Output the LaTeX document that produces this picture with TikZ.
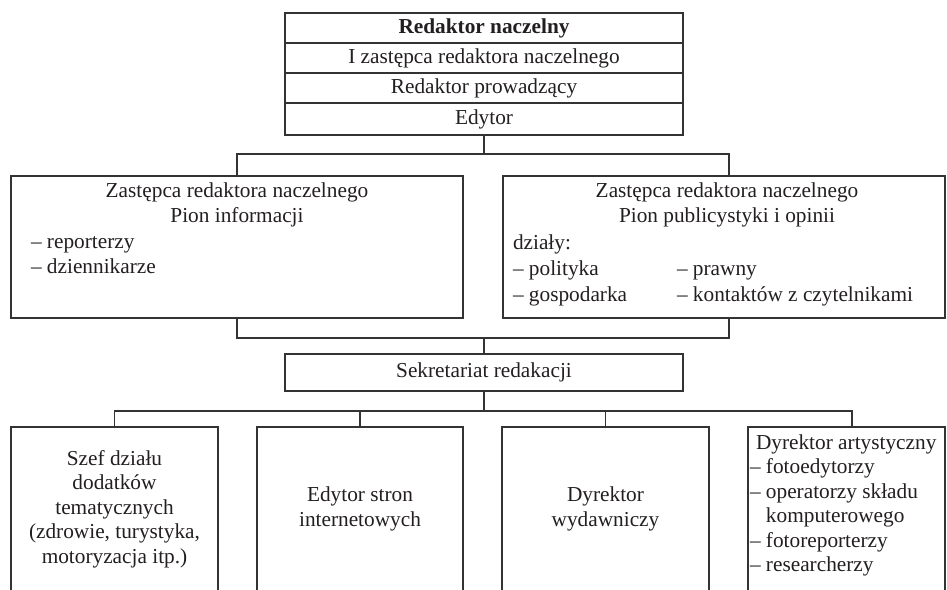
\documentclass[tikz,border=0pt]{standalone}
\usepackage{fontspec}
\setmainfont{Liberation Serif}
\definecolor{ln}{HTML}{333333}
\definecolor{tx}{HTML}{231F20}
\begin{document}
\begin{tikzpicture}[x=1pt,y=-1pt,
  box/.style={draw=ln, line width=1.2pt, rectangle, inner sep=0pt, outer sep=0pt},
  conn/.style={draw=ln, line width=1.2pt},
  txt/.style={font=\fontsize{21.3}{24.5}\selectfont, text=tx, inner sep=0pt, outer sep=0pt, align=center},
  lab/.style={txt, anchor=base},
  labw/.style={txt, anchor=base west, align=left}]
\useasboundingbox (0,0) rectangle (947,589);
\clip (0,0) rectangle (947,589);
\fill[white] (0,0) rectangle (947,589);

% top stack
\node[box, txt, minimum width=398pt, minimum height=30pt] (rn) at (484,28) {\textbf{Redaktor naczelny}};
\node[box, txt, minimum width=398pt, minimum height=30pt] (zr) at (484,58) {I zastępca redaktora naczelnego};
\node[box, txt, minimum width=398pt, minimum height=30pt] (rp) at (484,88) {Redaktor prowadzący};
\node[box, txt, minimum width=398pt, minimum height=32pt] (ed) at (484,119) {Edytor};

% second level boxes
\node[box, minimum width=452pt, minimum height=142pt] (lb) at (237,247) {};
\node[box, minimum width=442pt, minimum height=142pt] (rb) at (724,247) {};

\node[lab] (lbt1) at (237,197) {Zastępca redaktora naczelnego};
\node[lab] (lbt2) at (237,222) {Pion informacji};
\node[labw] (lbl1) at (31,248) {– reporterzy};
\node[labw] (lbl2) at (31,273) {– dziennikarze};

\node[lab] (rbt1) at (727,197) {Zastępca redaktora naczelnego};
\node[lab] (rbt2) at (727,222) {Pion publicystyki i opinii};
\node[labw] (rbd) at (513,249) {działy:};
\node[labw] (rb1) at (513,275) {– polityka};
\node[labw] (rb2) at (513,301) {– gospodarka};
\node[labw] (rb3) at (677,275) {– prawny};
\node[labw] (rb4) at (677,301) {– kontaktów z czytelnikami};

% sekretariat
\node[box, txt, minimum width=398pt, minimum height=37pt] (sk) at (484,372.5) {Sekretariat redakacji};

% bottom boxes
\node[box, txt, minimum width=207pt, minimum height=164pt] (b1) at (114.5,509) {Szef działu\\dodatków\\tematycznych\\(zdrowie, turystyka,\\motoryzacja itp.)};
\node[box, txt, minimum width=206pt, minimum height=164pt] (b2) at (360,509) {Edytor stron\\internetowych};
\node[box, txt, minimum width=207pt, minimum height=164pt] (b3) at (605.5,509) {Dyrektor\\wydawniczy};
\node[box, minimum width=197pt, minimum height=164pt] (b4) at (846.5,509) {};

\node[labw] (b4t0) at (756,449) {Dyrektor artystyczny};
\node[labw] (b4t1) at (750,473.5) {– fotoedytorzy};
\node[labw] (b4t2) at (750,498) {– operatorzy składu};
\node[labw] (b4t3) at (750,522.5) {\hphantom{– }komputerowego};
\node[labw] (b4t4) at (750,547) {– fotoreporterzy};
\node[labw] (b4t5) at (750,571.5) {– researcherzy};

% connectors
\coordinate (j1) at (484,154);
\coordinate (j2) at (484,338);
\coordinate (j3) at (484,411);
\coordinate (rbn) at (729,176);
\coordinate (rbs) at (729,318);
\coordinate (b4n) at (852,427);

\draw[conn] (ed.south) -- (j1);
\draw[conn] (lb.north) |- (j1) -| (rbn);
\draw[conn] (lb.south) |- (j2) -| (rbs);
\draw[conn] (j2) -- (sk.north);
\draw[conn] (sk.south) -- (j3);
\draw[conn] (b1.north) |- (j3) -| (b4n);
\draw[conn] (b2.north) -- (b2.north |- j3);
\draw[conn] (b3.north) -- (b3.north |- j3);
\end{tikzpicture}
\end{document}
